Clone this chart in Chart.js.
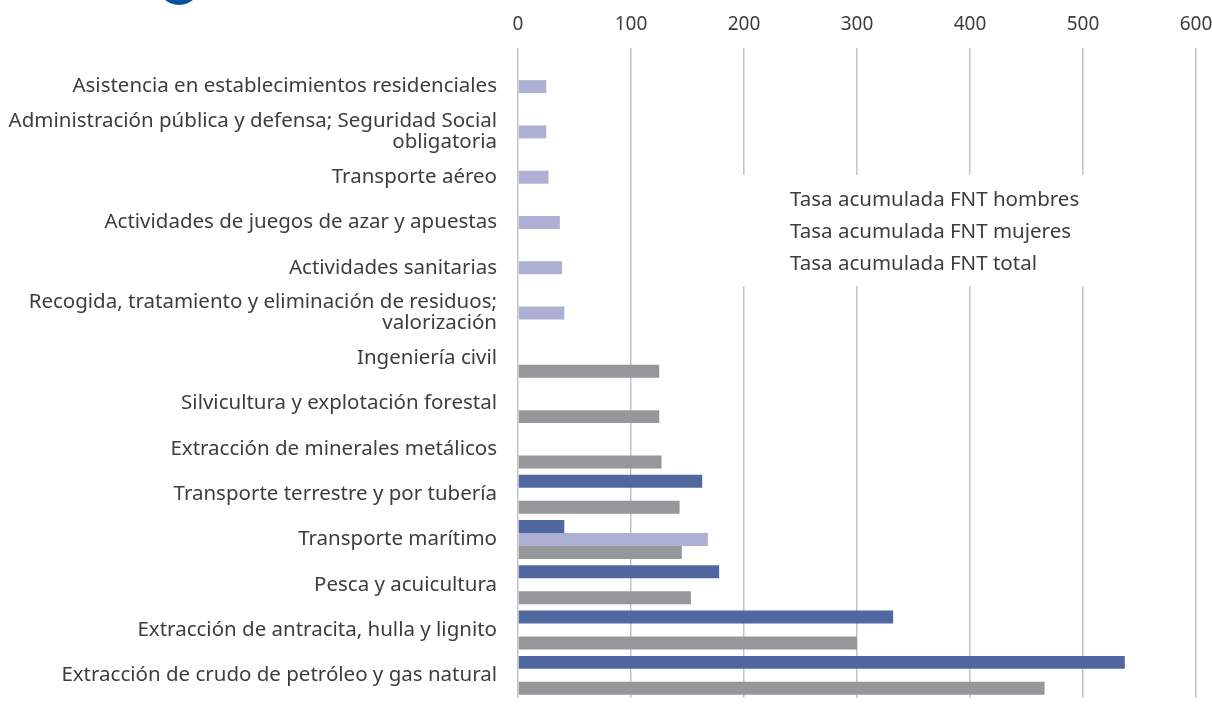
<!DOCTYPE html>
<html>
<head>
<meta charset="utf-8">
<script src="https://cdn.jsdelivr.net/npm/chart.js@4/dist/chart.umd.min.js"></script>
<style>
  body { margin: 0; background: #fff; }
  #wrap { position: relative; width: 1212px; height: 704px; overflow: hidden; }
  #dot { position: absolute; left: 157px; top: -39px; width: 44px; height: 44px; border-radius: 50%; background: #0a4f9e; }
</style>
</head>
<body>
<div id="wrap">
  <div id="dot"></div>
  <canvas id="chart"></canvas>
</div>
<script>
// categories, top to bottom
const sectores = [
	'Asistencia en establecimientos residenciales',
	['Administración pública y defensa; Seguridad Social', 'obligatoria'],
	'Transporte aéreo',
	'Actividades de juegos de azar y apuestas',
	'Actividades sanitarias',
	['Recogida, tratamiento y eliminación de residuos;', 'valorización'],
	'Ingeniería civil',
	'Silvicultura y explotación forestal',
	'Extracción de minerales metálicos',
	'Transporte terrestre y por tubería',
	'Transporte marítimo',
	'Pesca y acuicultura',
	'Extracción de antracita, hulla y lignito',
	'Extracción de crudo de petróleo y gas natural'
];

// series values (null = no bar)
const hombres = [null, null, null, null, null, null, null, null, null, 163, 41, 178, 332, 537];
const mujeres = [25, 25, 27, 37, 39, 41, null, null, null, null, 168, null, null, null];
const total = [null, null, null, null, null, null, 125, 125, 127, 143, 145, 153, 300, 466];

const seriesNames = ['Tasa acumulada FNT hombres', 'Tasa acumulada FNT mujeres', 'Tasa acumulada FNT total'];
const xTicks = [0, 100, 200, 300, 400, 500, 600];

const fontFamily = '"Noto Sans", Lato, sans-serif';
const textColor = '#3d3d3d';

// legend sits inside the plot on a white box, no colour swatches
const boxLegend = {
	id: 'boxLegend',
	beforeDatasetsDraw(chart) {
		const ctx = chart.ctx;
		ctx.save();
		ctx.fillStyle = '#fff';
		ctx.fillRect(700, 175, 440, 111);
		ctx.restore();
	},
	afterDraw(chart) {
		const ctx = chart.ctx;
		ctx.save();
		ctx.font = '20.5px ' + fontFamily;
		ctx.fillStyle = textColor;
		ctx.textBaseline = 'middle';
		chart.data.datasets.forEach(function (ds, i) {
			ctx.fillText(ds.label, 790, 200 + i * 32);
		});
		ctx.restore();
	}
};

new Chart(document.getElementById('chart'), {
	type: 'bar',
	data: {
		labels: sectores,
		datasets: [
			{ label: seriesNames[0], data: hombres, backgroundColor: '#50679f' },
			{ label: seriesNames[1], data: mujeres, backgroundColor: '#adb0d2' },
			{ label: seriesNames[2], data: total, backgroundColor: '#96979b' }
		]
	},
	options: {
		indexAxis: 'y',
		responsive: true,
		maintainAspectRatio: false,
		animation: false,
		categoryPercentage: 0.86,
		barPercentage: 1,
		layout: { padding: { left: 0, right: 16, top: 0, bottom: 6 } },
		plugins: {
			legend: { display: false },
			tooltip: { enabled: false }
		},
		scales: {
			x: {
				position: 'top',
				min: 0,
				max: 600,
				afterBuildTicks: function (scale) {
					scale.ticks = xTicks.map(function (v) { return { value: v }; });
				},
				afterFit: function (scale) {
					scale.height = 64;
					scale.paddingLeft = 0;
					scale.paddingRight = 0;
				},
				grid: { color: '#c4c4c4', lineWidth: 1.5, drawTicks: true, tickLength: 16, tickColor: '#c4c4c4' },
				border: { display: false },
				ticks: { font: { family: fontFamily, size: 19 }, color: textColor, padding: 12, maxRotation: 0 }
			},
			y: {
				afterFit: function (scale) {
					scale.width = 518;
					scale.paddingTop = 0;
					scale.paddingBottom = 0;
				},
				grid: { display: false, drawTicks: false },
				border: { display: false },
				ticks: { font: { family: fontFamily, size: 20.5, lineHeight: 1.03 }, color: textColor, padding: 21, autoSkip: false }
			}
		}
	},
	plugins: [boxLegend]
});
</script>
</body>
</html>
